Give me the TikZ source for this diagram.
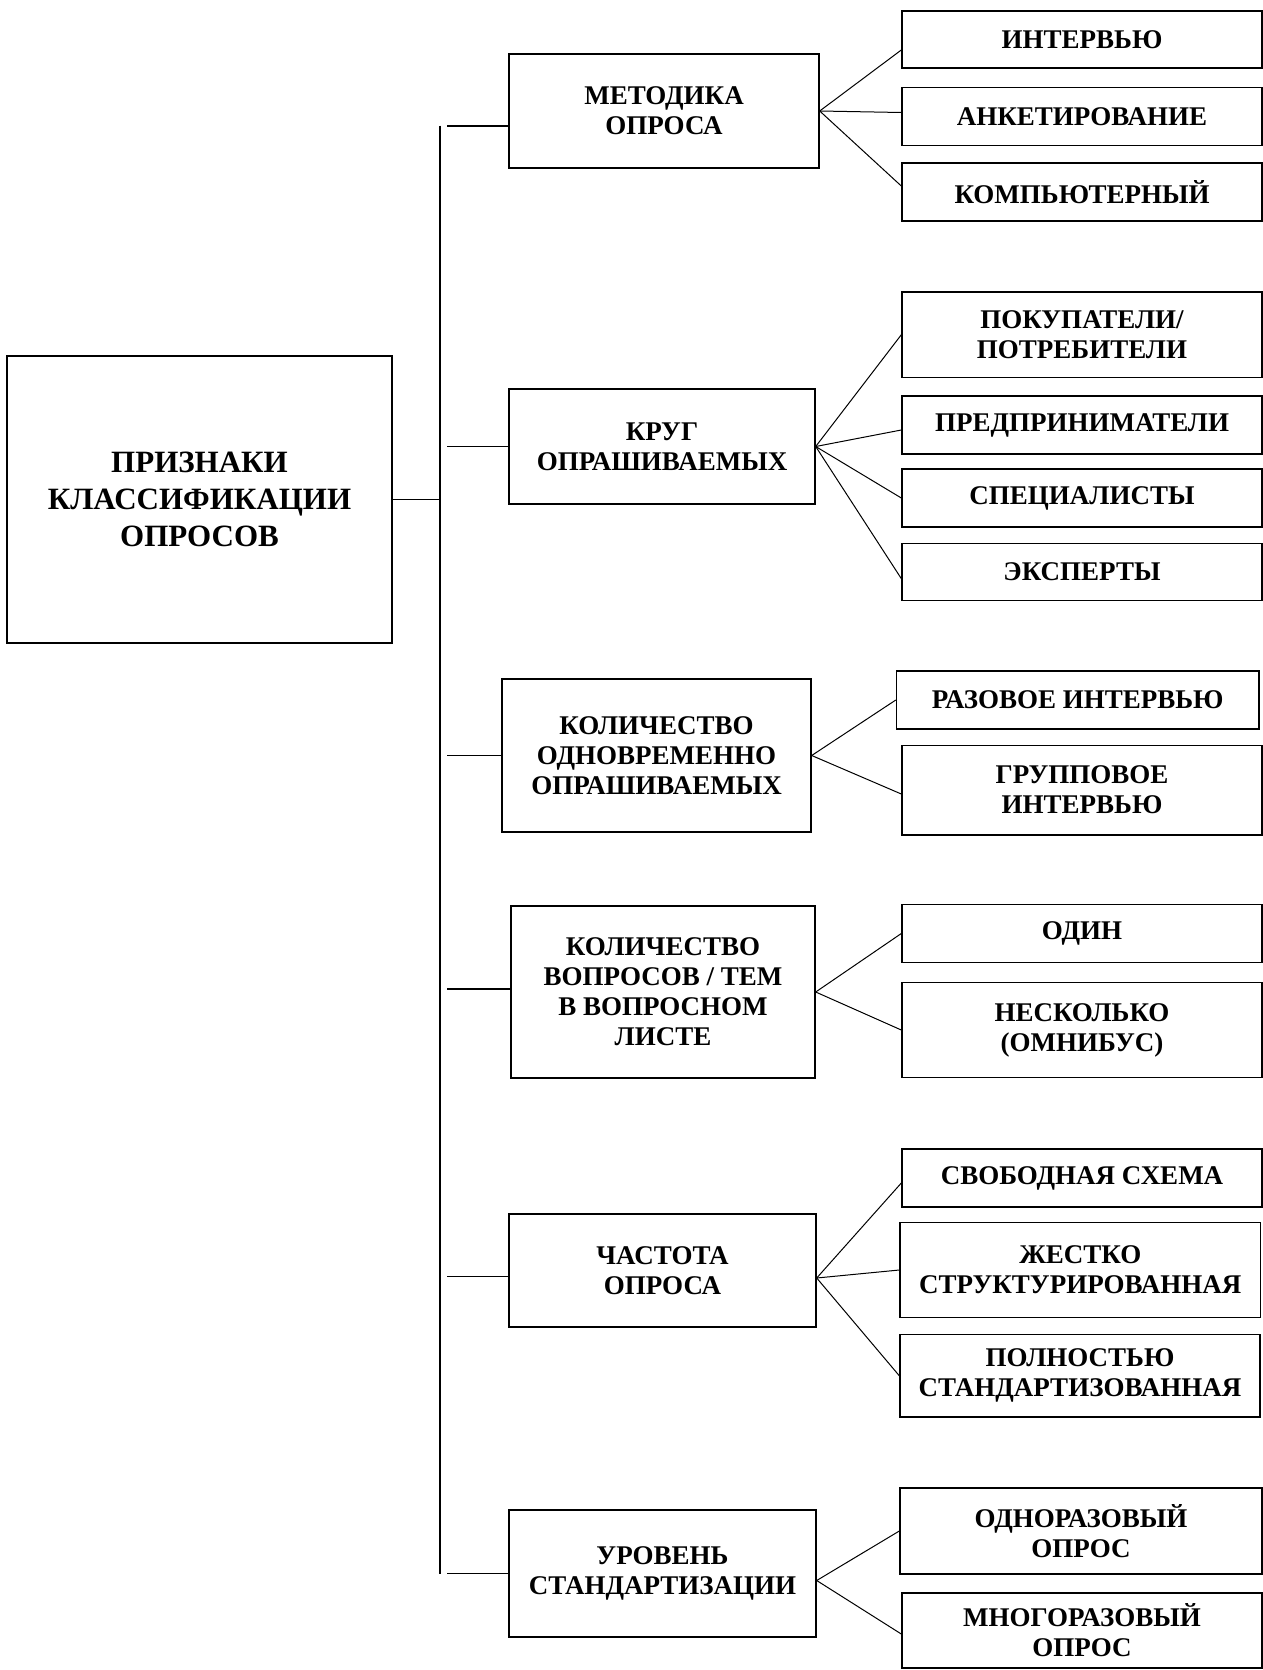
\documentclass[tikz,border=0pt]{standalone}
\usepackage{fontspec}
\setmainfont{Liberation Serif}
\tikzset{
  box/.style={draw, line width=1.4pt, align=center, inner sep=0pt,
    font=\fontsize{27}{30}\selectfont\bfseries},
  mainbox/.style={box, font=\fontsize{31}{37}\selectfont\bfseries},
  fan/.style={line width=1pt},
  conn/.style={line width=1.6pt},
  trunkline/.style={line width=1.1pt},
}
\begin{document}
\begin{tikzpicture}[x=1pt,y=-1pt]
\fill[white] (0,0) rectangle (1263,1670);
\useasboundingbox (0,0) rectangle (1263,1670);

% main box
\node[mainbox, minimum width=385pt, minimum height=287pt] (main) at (199.5,499.5)
  {ПРИЗНАКИ\\КЛАССИФИКАЦИИ\\ОПРОСОВ};

% middle boxes
\node[box, minimum width=310pt, minimum height=114pt] (m1) at (664,111) {МЕТОДИКА\\ОПРОСА};
\node[box, minimum width=306pt, minimum height=115pt] (m2) at (662,446.5) {КРУГ\\ОПРАШИВАЕМЫХ};
\node[box, minimum width=309pt, minimum height=153pt] (m3) at (656.5,755.5) {КОЛИЧЕСТВО\\ОДНОВРЕМЕННО\\ОПРАШИВАЕМЫХ};
\node[box, minimum width=304pt, minimum height=172pt] (m4) at (663,992) {КОЛИЧЕСТВО\\ВОПРОСОВ / ТЕМ\\В ВОПРОСНОМ\\ЛИСТЕ};
\node[box, minimum width=307pt, minimum height=113pt] (m5) at (662.5,1270.5) {ЧАСТОТА\\ОПРОСА};
\node[box, minimum width=307pt, minimum height=127pt] (m6) at (662.5,1573.5) {УРОВЕНЬ\\СТАНДАРТИЗАЦИИ};

% leaves
\node[box, minimum width=360pt, minimum height=57pt] (l1a) at (1082,39.5) {ИНТЕРВЬЮ};
\node[box, minimum width=360pt, minimum height=58pt] (l1b) at (1082,116.5) {АНКЕТИРОВАНИЕ};
\node[box, minimum width=360pt, minimum height=58pt] (l1c) at (1082,192) {КОМПЬЮТЕРНЫЙ};

\node[box, minimum width=360pt, minimum height=85.5pt] (l2a) at (1082,334.75) {ПОКУПАТЕЛИ/\\ПОТРЕБИТЕЛИ};
\node[box, minimum width=360pt, minimum height=58pt] (l2b) at (1082,425) {ПРЕДПРИНИМАТЕЛИ};
\node[box, minimum width=360pt, minimum height=58pt] (l2c) at (1082,498) {СПЕЦИАЛИСТЫ};
\node[box, minimum width=360pt, minimum height=57pt] (l2d) at (1082,572) {ЭКСПЕРТЫ};

\node[box, minimum width=362.5pt, minimum height=58pt] (l3a) at (1077.75,700) {РАЗОВОЕ ИНТЕРВЬЮ};
\node[box, minimum width=360pt, minimum height=89.6pt] (l3b) at (1082,790) {ГРУППОВОЕ\\ИНТЕРВЬЮ};

\node[box, minimum width=360pt, minimum height=58pt] (l4a) at (1082,933.5) {ОДИН};
\node[box, minimum width=360pt, minimum height=95.5pt] (l4b) at (1082,1030) {НЕСКОЛЬКО\\(ОМНИБУС)};

\node[box, minimum width=360pt, minimum height=58pt] (l5a) at (1082,1178) {СВОБОДНАЯ СХЕМА};
\node[box, minimum width=360.6pt, minimum height=95.5pt] (l5b) at (1080.3,1270) {ЖЕСТКО\\СТРУКТУРИРОВАННАЯ};
\node[box, minimum width=360pt, minimum height=82.5pt] (l5c) at (1080,1375.75) {ПОЛНОСТЬЮ\\СТАНДАРТИЗОВАННАЯ};

\node[box, minimum width=362pt, minimum height=86pt] (l6a) at (1081,1531) {ОДНОРАЗОВЫЙ\\ОПРОС};
\node[box, minimum width=360pt, minimum height=75pt] (l6b) at (1082,1630.5) {МНОГОРАЗОВЫЙ\\ОПРОС};

% trunk
\coordinate (tTop) at (440,125.7);
\coordinate (tBot) at (440,1573.5);
\coordinate (tx) at (447,0);
\draw[trunkline] (tTop) -- (tBot);

% main connector
\draw[conn] (main.east) -- (main.east -| tTop);

% trunk to middle boxes
\draw[conn] ([yshift=-14.7pt]m1.west) -- ([yshift=-14.7pt]m1.west -| tx);
\draw[conn] (m2.west) -- (m2.west -| tx);
\draw[conn] (m3.west) -- (m3.west -| tx);
\draw[conn] ([yshift=3pt]m4.west) -- ([yshift=3pt]m4.west -| tx);
\draw[conn] ([yshift=-6pt]m5.west) -- ([yshift=-6pt]m5.west -| tx);
\draw[conn] (m6.west) -- (m6.west -| tx);

% fans
\draw[fan] (m1.east) -- ([yshift=-10.5pt]l1a.west);
\draw[fan] (m1.east) -- ([yshift=4pt]l1b.west);
\draw[fan] (m1.east) -- ([yshift=6pt]l1c.west);

\draw[fan] (m2.east) -- (l2a.west);
\draw[fan] (m2.east) -- ([yshift=-5pt]l2b.west);
\draw[fan] (m2.east) -- (l2c.west);
\draw[fan] (m2.east) -- ([yshift=-6.6pt]l2d.west);

\draw[fan] (m3.east) -- (l3a.west);
\draw[fan] (m3.east) -- ([yshift=-4pt]l3b.west);

\draw[fan] (m4.east) -- (l4a.west);
\draw[fan] (m4.east) -- (l4b.west);

\draw[fan] ([yshift=-7.5pt]m5.east) -- ([yshift=-5pt]l5a.west);
\draw[fan] ([yshift=-7.5pt]m5.east) -- (l5b.west);
\draw[fan] ([yshift=-7.5pt]m5.east) -- (l5c.west);

\draw[fan] ([yshift=-7pt]m6.east) -- (l6a.west);
\draw[fan] ([yshift=-7pt]m6.east) -- ([yshift=-3.5pt]l6b.west);
\end{tikzpicture}
\end{document}
